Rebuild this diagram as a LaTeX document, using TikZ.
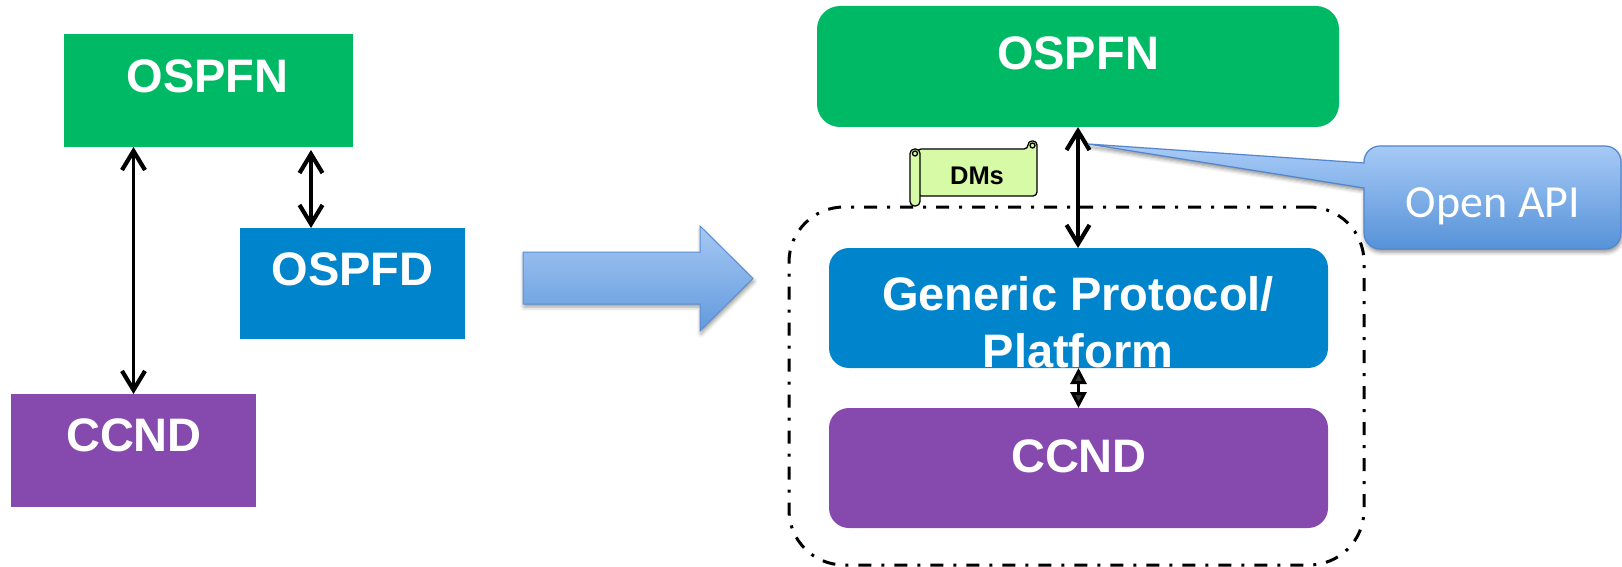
\documentclass[tikz,border=0pt]{standalone}
\usepackage{fontspec}
\setmainfont{Liberation Sans}
\newfontfamily\apifont{Carlito}
\usetikzlibrary{arrows.meta,shadows.blur}

\definecolor{ngreen}{RGB}{0,185,100}
\definecolor{nblue}{RGB}{0,132,203}
\definecolor{npurple}{RGB}{134,73,173}
\definecolor{scrollgreen}{RGB}{214,250,166}
\definecolor{calltop}{RGB}{168,203,247}
\definecolor{callbot}{RGB}{86,146,216}
\definecolor{callline}{RGB}{84,134,204}
\definecolor{arrtop}{RGB}{165,200,244}
\definecolor{arrbot}{RGB}{98,154,220}
\definecolor{arrline}{RGB}{92,142,208}

\begin{document}
\begin{tikzpicture}[x=1pt,y=-1pt,
  box/.style={draw=none, inner sep=0pt, outer sep=0pt},
  lbl/.style={inner sep=0pt, text=white, anchor=base,
    font=\fontsize{47}{57}\selectfont\bfseries},
  link/.style={line width=3.7pt,
    {Straight Barb[length=19pt,width=23pt,line width=4.2pt]}-{Straight Barb[length=19pt,width=23pt,line width=4.2pt]}},
  tinylink/.style={line width=3pt,
    {Triangle[length=16pt,width=16pt]}-{Triangle[length=16pt,width=16pt]}},
  group/.style={draw, line width=3pt, rounded corners=55, inner sep=0pt,
    dash pattern=on 13pt off 10pt on 3pt off 10pt},
  scrollpart/.style={fill=scrollgreen, draw=black, line width=1.3pt, line join=round},
  callout/.style={draw=callline, line width=1.2pt, top color=calltop, bottom color=callbot,
    blur shadow={shadow xshift=1pt, shadow yshift=-3pt, shadow blur radius=4pt, shadow opacity=45}},
  blockarr/.style={draw=arrline, line width=1pt, top color=arrtop, bottom color=arrbot,
    blur shadow={shadow xshift=1pt, shadow yshift=-3pt, shadow blur radius=4pt, shadow opacity=40}}
]
\useasboundingbox (0,0) rectangle (1622,567);

% ---- before: separate daemons ----
\node[box, fill=ngreen,  minimum width=289, minimum height=113] (lfn) at (208.5,90.5) {};
\node[box, fill=nblue,   minimum width=225, minimum height=111] (lfd) at (352.5,283.5) {};
\node[box, fill=npurple, minimum width=245, minimum height=113] (lcc) at (133.5,450.5) {};
\node[lbl] (lfn-t) at (207.5,92.5) {OSPFN};
\node[lbl] (lfd-t) at (352.5,285) {OSPFD};
\node[lbl] (lcc-t) at (134,451.5) {CCND};
\draw[link] (lfn.south -| lcc.north) -- (lcc.north);
\draw[link] ([xshift=-41.5pt,yshift=-3pt]lfn.south -| lfd.north) -- ([xshift=-41.5pt]lfd.north);

% ---- transition arrow ----
\path[blockarr] (523,252) -- (700,252) -- (700,226) -- (753,278.5) -- (700,331) -- (700,304) -- (523,304) -- cycle;

% ---- after: common platform ----
\node[group, minimum width=575, minimum height=358] (grp) at (1076.5,386) {};
\node[box, fill=ngreen,  rounded corners=23, minimum width=522, minimum height=121] (rfn) at (1078,66.5) {};
\node[box, fill=nblue,   rounded corners=20, minimum width=499, minimum height=120] (gp)  at (1078.5,308) {};
\node[box, fill=npurple, rounded corners=20, minimum width=499, minimum height=120] (rcc) at (1078.5,468) {};
\node[lbl] (rfn-t) at (1078,70) {OSPFN};
\node[lbl, align=center] (gp-t) at (1078,367) {Generic Protocol/\\Platform};
\node[lbl] (rcc-t) at (1079,472) {CCND};
\draw[link] (rfn.south) -- (rfn.south |- gp.north);
\draw[tinylink] (gp.south) -- (rcc.north);

% data-model scroll on the group border
\draw[scrollpart, rounded corners=4] (917,149) -- (1028,149) -- (1028,141) -- (1037,141) -- (1037,196) -- (917,196) -- cycle;
\draw[scrollpart] (1032.5,145.5) circle (2.5pt);
\draw[scrollpart, rounded corners=4.5] (910,149) rectangle (920,206);
\draw[scrollpart] (915,153.5) circle (2.5pt);
\node[inner sep=0pt, anchor=base, font=\fontsize{25.5}{30}\selectfont\bfseries] (dms) at (977,184) {DMs};

% open API callout
\coordinate (apitip) at (1088,144);
\path[callout] (apitip) -- (1364,163) [rounded corners=16] -- (1364,146) -- (1621,146) -- (1621,249) -- (1364,249) [sharp corners] -- (1364,188) -- cycle;
\node[inner sep=0pt, anchor=base, text=white, font=\apifont\fontsize{46}{50}\selectfont] (api) at (1493,217) {Open API};
\end{tikzpicture}
\end{document}
